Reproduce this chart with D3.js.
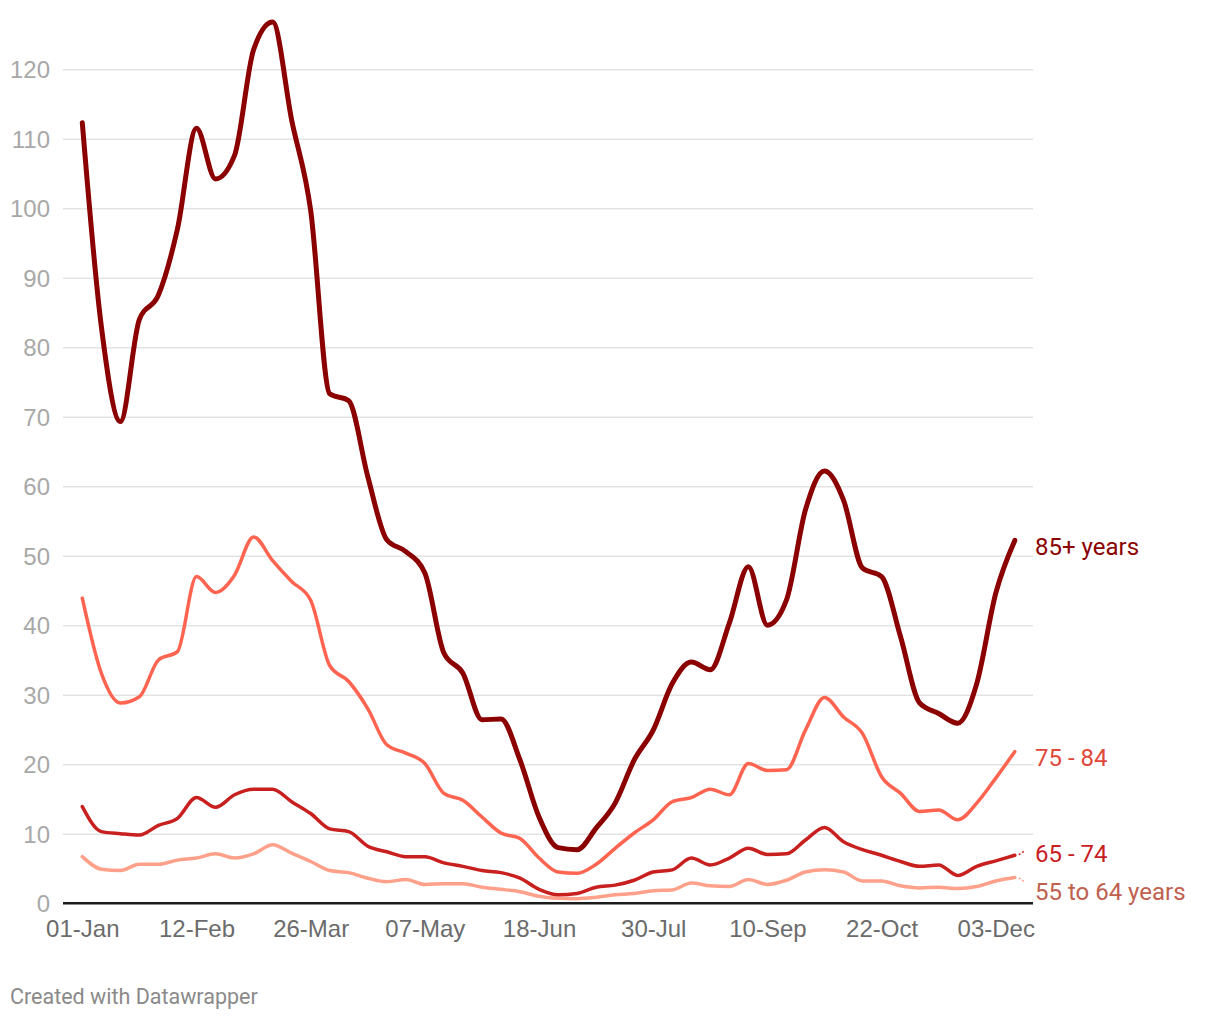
<!DOCTYPE html>
<html>
<head>
<meta charset="utf-8">
<script src="https://cdn.jsdelivr.net/npm/d3@7/dist/d3.min.js"></script>
<style>
  html, body { margin: 0; padding: 0; background: #fff; }
  svg { display: block; font-family: Roboto, "Noto Sans", sans-serif; }
</style>
</head>
<body>
<svg id="chart" width="1220" height="1020"></svg>
<script>
// ---- data (weekly, starting 01-Jan) ----
const startDate = "2021-01-01";
const weeks = 50;
const seriesNames = ["85+ years", "75 - 84", "65 - 74", "55 to 64 years"];
const age85plus = [112.3, 83, 69.3, 84, 87.5, 97, 111.5, 104.2, 107.6, 122.8,
  126.8, 112.7, 99.7, 73.3, 72.3, 61.4, 52.3, 50.6, 47.5, 36.0,
  33.1, 26.4, 26.5, 20.6, 12.4, 8.0, 7.7, 10.8, 14.4, 20.6,
  24.9, 31.6, 34.7, 33.6, 40.3, 48.4, 40.0, 43.6, 56.6, 62.2,
  58.0, 48.2, 47.0, 38.3, 28.8, 27.3, 25.9, 31.6, 44.6, 52.2];
const age75to84 = [43.9, 33.1, 28.8, 29.7, 35.0, 36.2, 47.0, 44.7, 47.2, 52.7,
  49.3, 46.3, 43.6, 34.2, 31.9, 28.0, 22.8, 21.6, 20.1, 15.8,
  14.8, 12.4, 10.1, 9.3, 6.5, 4.5, 4.3, 5.6, 7.9, 10.1,
  12.0, 14.6, 15.2, 16.4, 15.6, 20.1, 19.1, 19.2, 24.9, 29.6,
  26.8, 24.4, 18.2, 15.8, 13.2, 13.4, 12.0, 14.4, 18.0, 21.8];
const age65to74 = [13.9, 10.3, 10.0, 9.8, 11.2, 12.2, 15.2, 13.8, 15.6, 16.4,
  16.4, 14.6, 12.9, 10.7, 10.3, 8.2, 7.4, 6.7, 6.7, 5.8,
  5.3, 4.7, 4.4, 3.6, 2.0, 1.2, 1.4, 2.3, 2.6, 3.3,
  4.5, 4.8, 6.5, 5.5, 6.5, 7.9, 7.0, 7.1, 9.1, 10.9,
  8.85, 7.7, 6.9, 6.0, 5.3, 5.5, 4.0, 5.3, 6.1, 6.9];
const age55to64 = [6.7, 4.9, 4.7, 5.6, 5.6, 6.2, 6.5, 7.1, 6.5, 7.1,
  8.4, 7.2, 6.0, 4.7, 4.4, 3.6, 3.1, 3.4, 2.7, 2.8,
  2.8, 2.3, 2.0, 1.65, 1.0, 0.7, 0.65, 0.85, 1.2, 1.4,
  1.8, 1.9, 2.9, 2.5, 2.4, 3.4, 2.7, 3.3, 4.5, 4.8,
  4.5, 3.2, 3.2, 2.5, 2.2, 2.3, 2.1, 2.4, 3.2, 3.7];
const yTicks = [0, 10, 20, 30, 40, 50, 60, 70, 80, 90, 100, 110, 120];
const xTickLabels = ["01-Jan", "12-Feb", "26-Mar", "07-May", "18-Jun", "30-Jul", "10-Sep", "22-Oct", "03-Dec"];
const lineColors = ["#8b0000", "#ff6450", "#c8201f", "#ffa08a"];
const labelColors = ["#8b0000", "#e0483a", "#c8201f", "#c0604f"];
const lineWidths = [5, 3.5, 3.5, 3.5];
const credit = "Created with Datawrapper";

// ---- build ----
const parse = d3.timeParse("%Y-%m-%d");
const t0 = parse(startDate);
const dates = d3.range(weeks).map(i => d3.timeDay.offset(t0, i * 7));
const allSeries = [age85plus, age75to84, age65to74, age55to64];

const svg = d3.select("#chart");
const x = d3.scaleTime().domain([dates[0], dates[dates.length - 1]]).range([82.3, 1014.8]);
const y = d3.scaleLinear().domain([0, 120]).range([903.2, 69.2]);

// gridlines + y labels
const yAxis = d3.axisLeft(y).tickValues(yTicks).tickSize(-970).tickPadding(13).tickFormat(d3.format("d"));
const gy = svg.append("g").attr("transform", "translate(1033,0)").call(yAxis);
gy.select(".domain").remove();
gy.selectAll(".tick line").attr("stroke", "#e3e3e3").attr("stroke-width", 1.6)
  .attr("x1", -970).attr("x2", 0);
gy.selectAll(".tick text").attr("x", -983).attr("fill", "#a8a8a8")
  .attr("font-size", 24).attr("dy", "0.35em").attr("text-anchor", "end");
gy.selectAll(".tick").filter(d => d === 0).select("line").attr("stroke", "none");

// x axis
const xTickDates = xTickLabels.map((_, i) => d3.timeDay.offset(t0, i * 42));
const xAxis = d3.axisBottom(x).tickValues(xTickDates).tickSize(0).tickPadding(17)
  .tickFormat((d, i) => xTickLabels[i]);
const gx = svg.append("g").attr("transform", "translate(0,903.2)").call(xAxis);
gx.select(".domain").remove();
gx.selectAll(".tick text").attr("fill", "#6b6b6b").attr("font-size", 24);
svg.append("line").attr("x1", 63).attr("x2", 1033).attr("y1", 903.2).attr("y2", 903.2)
  .attr("stroke", "#1a1a1a").attr("stroke-width", 2.5);

// lines
const line = d3.line().x((d, i) => x(dates[i])).y(d => y(d)).curve(d3.curveMonotoneX);
const drawOrder = [3, 2, 1, 0];
drawOrder.forEach(k => {
  svg.append("path").datum(allSeries[k]).attr("d", line)
    .attr("fill", "none").attr("stroke", lineColors[k]).attr("stroke-width", lineWidths[k])
    .attr("stroke-linejoin", "round").attr("stroke-linecap", "round");
});

// labels with symmetric collision avoidance
const lastX = x(dates[dates.length - 1]);
const labels = allSeries.map((s, k) => ({ k, y0: y(s[s.length - 1]), y: y(s[s.length - 1]) + 6 }));
labels.sort((a, b) => a.y - b.y);
const minGap = 38;
for (let iter = 0; iter < 20; iter++) {
  for (let i = 1; i < labels.length; i++) {
    const gap = labels[i].y - labels[i - 1].y;
    if (gap < minGap) {
      const push = (minGap - gap) / 2;
      labels[i].y += push;
      labels[i - 1].y -= push;
    }
  }
}
labels.forEach(l => {
  const shift = l.y - (l.y0 + 6);
  if (Math.abs(shift) > 4) {
    svg.append("line").attr("x1", lastX + 4).attr("x2", lastX + 10)
      .attr("y1", l.y0 + Math.sign(shift) * 0.5).attr("y2", l.y0 + Math.sign(shift) * 4.5)
      .attr("stroke", lineColors[l.k]).attr("stroke-width", 1.5).attr("stroke-dasharray", "2,2");
  }
  svg.append("text").attr("x", 1035).attr("y", l.y).attr("dy", "0.35em")
    .attr("fill", labelColors[l.k]).attr("font-size", 24).text(seriesNames[l.k]);
});

// credit
svg.append("text").attr("x", 10).attr("y", 1004).attr("fill", "#8a8a8a")
  .attr("font-size", 21.5).text(credit);
</script>
</body>
</html>
